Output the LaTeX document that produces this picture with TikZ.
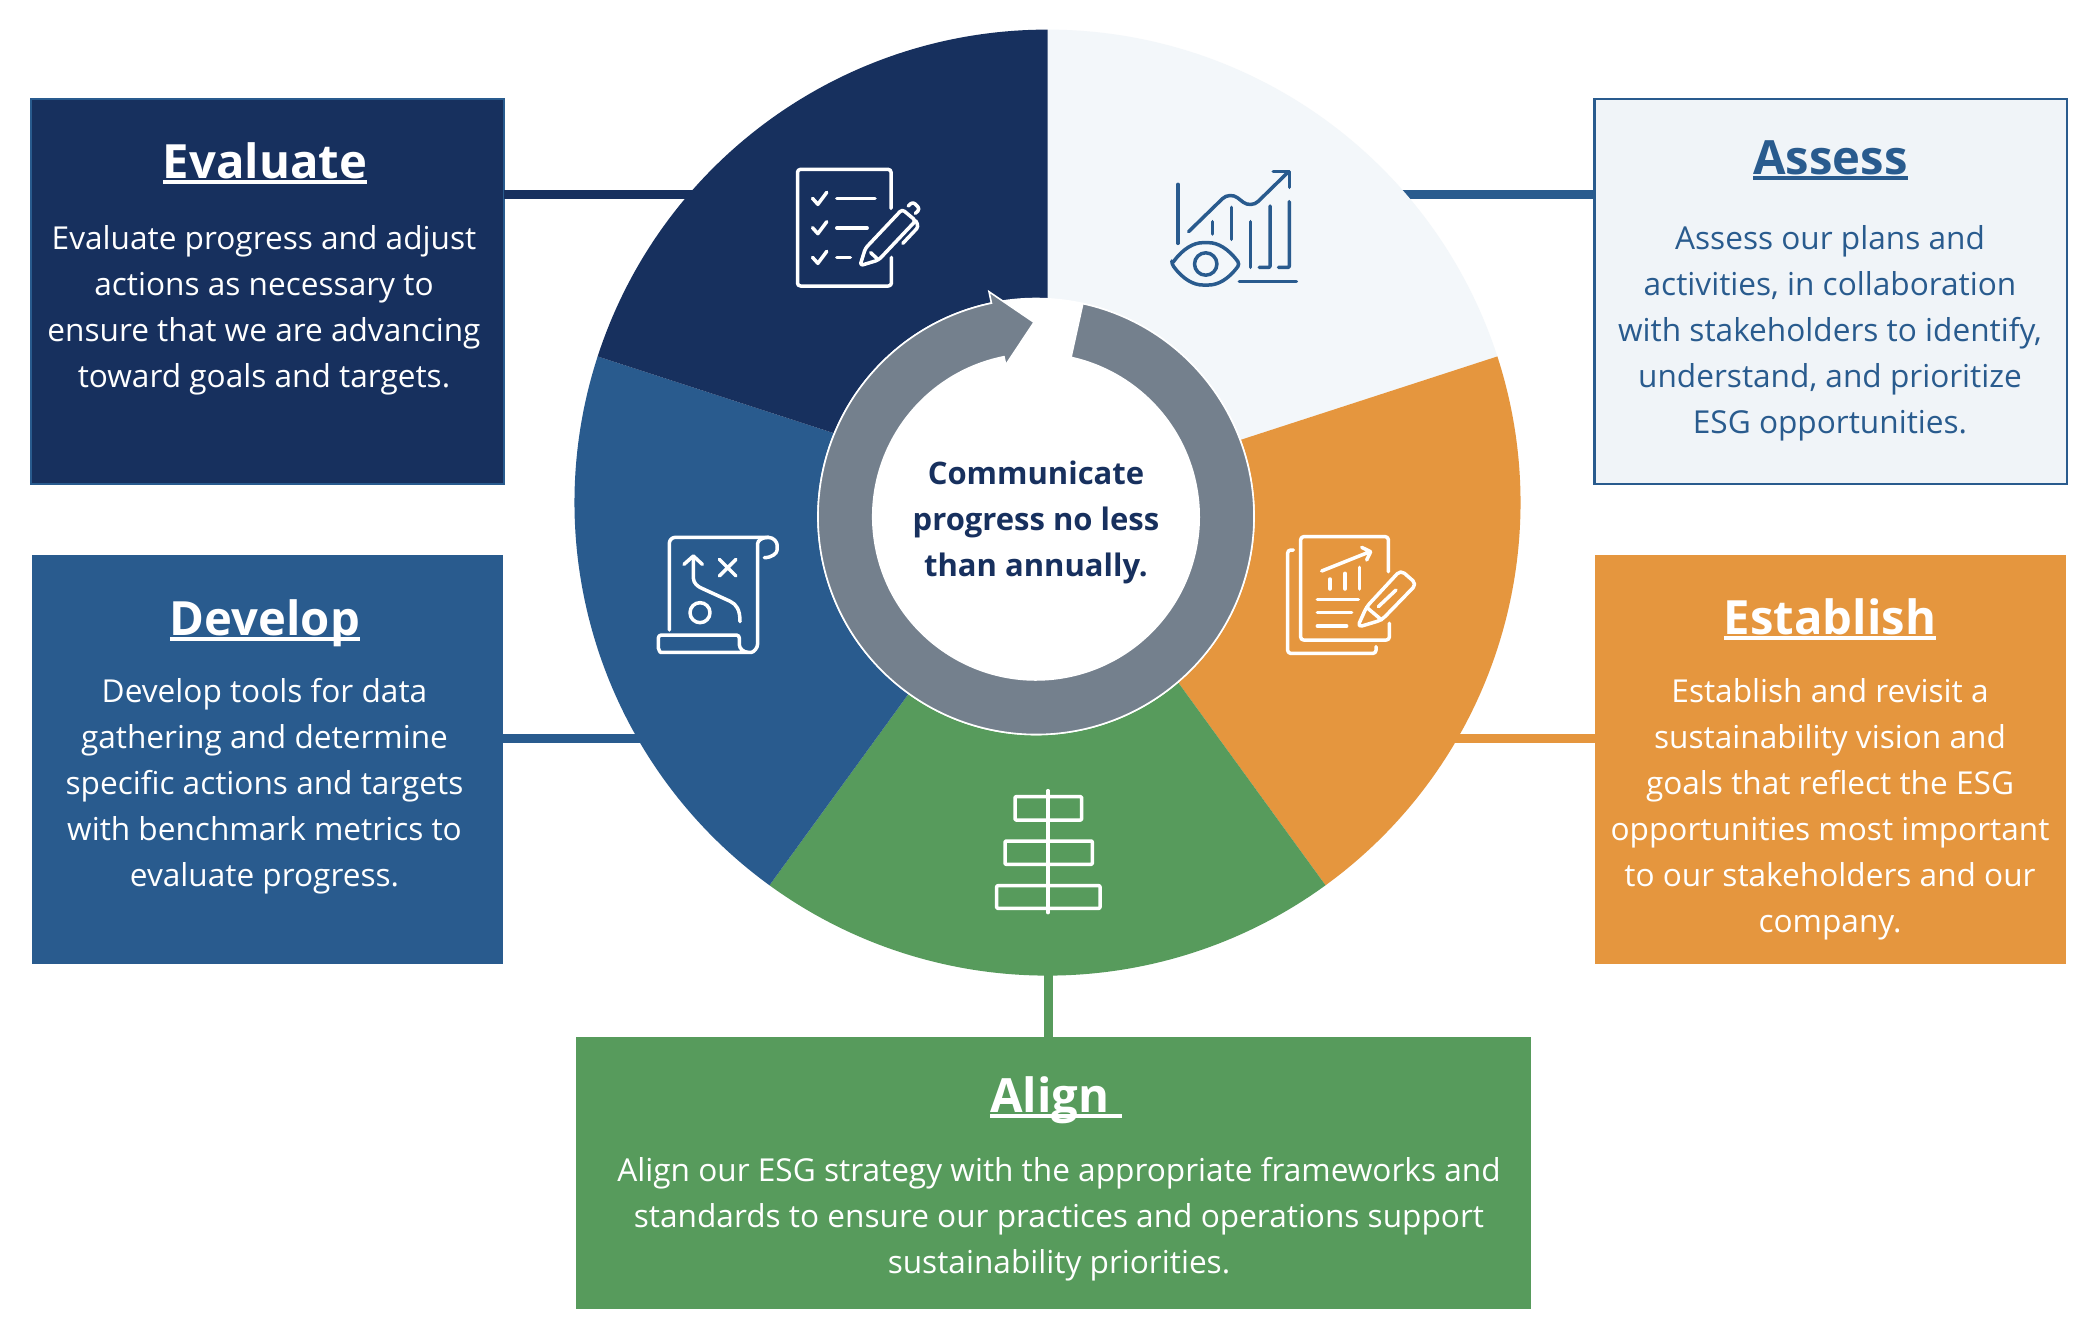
\documentclass[tikz,border=0pt]{standalone}
\usepackage{fontspec}
\setmainfont{Open Sans}
\definecolor{navy}{HTML}{17305E}
\definecolor{blue}{HTML}{295B8E}
\definecolor{orange}{HTML}{E5963E}
\definecolor{green}{HTML}{579B5C}
\definecolor{pale}{HTML}{F3F7FA}
\definecolor{palebox}{HTML}{F0F4F8}
\definecolor{ringgrey}{HTML}{74808D}
\newsavebox\ulbox
\newcommand\ulT[1]{\sbox\ulbox{#1}\rlap{\rule[-3pt]{\wd\ulbox}{1.8pt}}\usebox\ulbox}
\tikzset{
  stepbox/.style={draw=none,inner sep=0pt,outer sep=0pt,rectangle},
  conn/.style={line width=4.5pt},
  titletext/.style={anchor=base,inner sep=0pt,font=\fontsize{23.6}{28}\selectfont\bfseries},
  bodytext/.style={anchor=base,inner sep=0pt,align=center,font=\fontsize{15.8}{23}\selectfont},
  icon/.style={line width=1.75pt,line cap=round,line join=round,rounded corners=1.5pt},
}
\newcommand\boxat[6]{% name, x1,y1,x2,y2, style
  \node[stepbox,#6,minimum width=#4*0.5pt-#2*0.5pt,minimum height=#5*0.5pt-#3*0.5pt,anchor=north west] (#1) at (#2,#3) {};}
\begin{document}
\begin{tikzpicture}[x=0.5pt,y=-0.5pt]
\useasboundingbox (0,0) rectangle (2100,1344);
\fill[white] (0,0) rectangle (2100,1344);
\coordinate (pie) at (1047.5,502.6);
\coordinate (ring) at (1036,516.5);
% boxes
\boxat{evalbox}{31}{99}{504}{484}{fill=navy,draw=blue,line width=1.2pt}
\boxat{assessbox}{1594.5}{99}{2067}{484}{fill=palebox,draw=blue,line width=1.2pt}
\boxat{devbox}{32}{555}{503}{964}{fill=blue}
\boxat{estbox}{1595}{555}{2066}{964}{fill=orange}
\boxat{alignbox}{576}{1037}{1531}{1309}{fill=green}
% connector ends inside the pie
\coordinate (evalin) at (800,194);
\coordinate (assessin) at (1300,194);
\coordinate (devin) at (800,738.5);
\coordinate (estin) at (1300,738.5);
\coordinate (alignin) at (1048,900);
\draw[conn,navy] (evalbox.east |- evalin) -- (evalin);
\draw[conn,blue] (assessbox.west |- assessin) -- (assessin);
\draw[conn,blue] (devbox.east |- devin) -- (devin);
\draw[conn,orange] (estbox.west |- estin) -- (estin);
\draw[conn,green] (alignbox.north -| alignin) -- (alignin);
% pie
\fill[pale] (pie) -- ++(90:236.5pt) arc[start angle=90,end angle=18,radius=236.5pt] -- cycle;
\fill[orange] (pie) -- ++(18:236.5pt) arc[start angle=18,end angle=-54,radius=236.5pt] -- cycle;
\fill[green] (pie) -- ++(-54:236.5pt) arc[start angle=-54,end angle=-126,radius=236.5pt] -- cycle;
\fill[blue] (pie) -- ++(-126:236.5pt) arc[start angle=-126,end angle=-198,radius=236.5pt] -- cycle;
\fill[navy] (pie) -- ++(162:236.5pt) arc[start angle=162,end angle=90,radius=236.5pt] -- cycle;
% ring
\fill[white] (ring) circle[radius=109.4pt];
\path[fill=ringgrey,draw=white,line width=0.8pt,line join=miter]
  (ring) ++(77.6:109pt) arc[start angle=77.6,end angle=-258.2,radius=109pt]
  -- (989,291.7) -- (1034,322.3) -- (1005.7,365) -- (1004,356.7)
  arc[start angle=-258.7,end angle=77.6,radius=81.6pt] -- cycle;
% texts
\node[titletext,white] (t1) at (265,178) {\ulT{Evaluate}};
\node[bodytext,white] (b1) at (264,387.3) {Evaluate progress and adjust\\actions as necessary to\\ensure that we are advancing\\toward goals and targets.};
\node[titletext,blue] (t2) at (1830.5,174) {\ulT{Assess}};
\node[bodytext,blue] (b2) at (1830,433.3) {Assess our plans and\\activities, in collaboration\\with stakeholders to identify,\\understand, and prioritize\\ESG opportunities.};
\node[titletext,white] (t3) at (265,635) {\ulT{Develop}};
\node[bodytext,white] (b3) at (264.5,886.3) {Develop tools for data\\gathering and determine\\specific actions and targets\\with benchmark metrics to\\evaluate progress.};
\node[titletext,white] (t4) at (1830,634) {\ulT{Establish}};
\node[bodytext,white] (b4) at (1830,932.3) {Establish and revisit a\\sustainability vision and\\goals that reflect the ESG\\opportunities most important\\to our stakeholders and our\\company.};
\node[titletext,white] (t5) at (1056,1112) {\ulT{Align\ }};
\node[bodytext,white] (b5) at (1059,1273.3) {Align our ESG strategy with the appropriate frameworks and\\standards to ensure our practices and operations support\\sustainability priorities.};
\node[anchor=base,inner sep=0pt,align=center,navy,font=\fontsize{15.5}{23}\selectfont\bfseries] (centre) at (1036,576.3) {Communicate\\progress no less\\than annually.};
% icon: checklist
\begin{scope}[shift={(760,130)},x=0.17857pt,y=-0.16667pt]
\draw[icon,white] (367,235) -- (367,118) -- (105,118) -- (105,468) -- (368,468) -- (368,382);
\foreach \yy in {205,293,382} \draw[icon,white,rounded corners=0pt] (147,\yy) -- (162,\yy+18) -- (187,\yy-18);
\draw[icon,white] (215,206) -- (322,206) (215,294) -- (300,294) (215,383) -- (253,383);
\draw[icon,white] (280,407) -- (295,355) -- (398,238) -- (436,272) -- (332,390) -- cycle;
\draw[icon,white] (310,368) -- (330,388);
\draw[icon,white] (400,340) -- (444,290) -- (436,272);
\draw[icon,white] (415,228) -- (428,215) -- (448,237) -- (435,250);
\end{scope}
% icon: chart and eye
\begin{scope}[shift={(760,130)},x=0.17857pt,y=-0.16667pt]
\draw[icon,blue] (1170,163) -- (1170,340);
\draw[icon,blue,rounded corners=5pt] (1200,305) -- (1315,185) -- (1375,235) -- (1480,125);
\draw[icon,blue,rounded corners=0pt] (1437,124) -- (1482,124) -- (1482,172);
\draw[icon,blue] (1267,275) -- (1267,312) (1320,232) -- (1320,328) (1374,275) -- (1374,412);
\draw[icon,blue,rounded corners=0.5pt] (1428,228) -- (1428,412) -- (1398,412) (1482,215) -- (1482,412) -- (1452,412);
\draw[icon,blue] (1342,455) -- (1502,455);
\draw[icon,blue] (1153,402) .. controls (1185,355) and (1215,338) .. (1248,338) .. controls (1281,338) and (1311,355) .. (1343,402) .. controls (1311,449) and (1281,465) .. (1248,465) .. controls (1215,465) and (1185,449) .. (1153,402) -- cycle;
\draw[icon,blue] (1248,402) circle[radius=5.6pt];
\end{scope}
% icon: map scroll
\begin{scope}[shift={(640,520)},x=0.16667pt,y=-0.16667pt]
\draw[icon,white,rounded corners=3pt] (88,330) -- (88,52) -- (385,52);
\draw[icon,white] (385,52) .. controls (402,52) and (411,68) .. (411,82) .. controls (411,100) and (395,113) .. (373,113);
\draw[icon,white] (385,52) .. controls (365,52) and (353,62) .. (353,80) -- (353,362) .. controls (353,385) and (340,397) .. (325,397) -- (70,397) .. controls (62,397) and (55,390) .. (55,375) -- (55,345) -- (298,345) -- (298,365) .. controls (298,385) and (310,397) .. (325,397);
\draw[icon,white,rounded corners=0pt] (132,133) -- (160,108) -- (187,133);
\draw[icon,white] (160,110) -- (160,165) .. controls (160,190) and (175,200) .. (190,207) -- (262,240) .. controls (290,253) and (300,270) .. (300,305);
\draw[icon,white] (238,118) -- (288,168) (288,118) -- (238,168);
\draw[icon,white] (180,278) circle[radius=5pt];
\end{scope}
% icon: report and pencil
\begin{scope}[shift={(1270,510)},x=0.16667pt,y=-0.16667pt]
\draw[icon,white] (355,185) -- (355,80) -- (92,80) -- (92,390) -- (358,390) -- (358,340);
\draw[icon,white] (70,120) -- (53,120) -- (53,430) -- (318,430) -- (318,410);
\draw[icon,white,rounded corners=0pt] (155,183) -- (300,125) (275,112) -- (302,125) -- (290,150);
\draw[icon,white] (180,207) -- (180,237) (225,190) -- (225,237) (268,172) -- (268,237);
\draw[icon,white] (142,268) -- (265,268) (142,308) -- (245,308) (142,348) -- (230,348);
\draw[icon,white,rounded corners=2.5pt] (262,352) -- (290,290) -- (392,180) -- (440,222) -- (335,330) -- cycle;
\draw[icon,white] (290,292) -- (335,330) (325,290) -- (378,240);
\end{scope}
% icon: aligned bars
\begin{scope}[shift={(980,770)},x=0.16667pt,y=-0.16667pt]
\draw[icon,white,rounded corners=0.5pt] (105,80) rectangle (305,150) (75,213) rectangle (337,283) (50,347) rectangle (360,415);
\draw[icon,white] (204,62) -- (204,428);
\end{scope}
\end{tikzpicture}
\end{document}
